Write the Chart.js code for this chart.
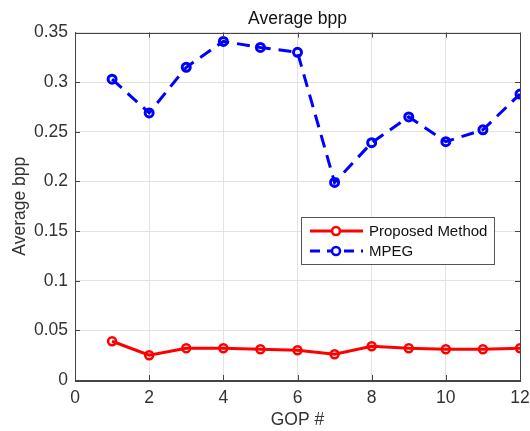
<!DOCTYPE html>
<html>
<head>
<meta charset="utf-8">
<script src="https://cdn.jsdelivr.net/npm/chart.js@4"></script>
<style>
  html, body { margin: 0; padding: 0; background: #fff; }
  #wrap { width: 530px; height: 431px; }
</style>
</head>
<body>
<div id="wrap"><canvas id="bppChart" width="530" height="431"></canvas></div>
<script>
// GOP numbers and average bpp per series
const gops = [1, 2, 3, 4, 5, 6, 7, 8, 9, 10, 11, 12];
const proposed = [0.039, 0.025, 0.032, 0.032, 0.031, 0.030, 0.026, 0.034, 0.032, 0.031, 0.031, 0.032];
const mpeg = [0.303, 0.269, 0.315, 0.341, 0.335, 0.330, 0.199, 0.239, 0.265, 0.240, 0.252, 0.288];
const seriesNames = ["Proposed Method", "MPEG"];
const xTicks = [0, 2, 4, 6, 8, 10, 12];
const yTicks = [0, 0.05, 0.1, 0.15, 0.2, 0.25, 0.3, 0.35];

const font = "'Liberation Sans', Arial, sans-serif";
const textColor = "#333";
const axisColor = "#444";
const fontSize = 17.5;

function toPoints(vals) {
  return gops.map((g, i) => ({ x: g, y: vals[i] }));
}

// box round the axes, inside ticks and the legend, drawn MATLAB style
const matlabBox = {
  id: "matlabBox",
  afterDraw(chart) {
    const ctx = chart.ctx;
    const a = chart.chartArea;
    const xs = chart.scales.x, ys = chart.scales.y;
    ctx.save();
    ctx.strokeStyle = axisColor;
    ctx.lineWidth = 1;
    ctx.strokeRect(Math.round(a.left) + 0.5, Math.round(a.top) + 0.5,
      Math.round(a.right - a.left), Math.round(a.bottom - a.top));
    ctx.beginPath();
    xTicks.forEach(t => {
      const px = Math.round(xs.getPixelForValue(t)) + 0.5;
      ctx.moveTo(px, a.bottom); ctx.lineTo(px, a.bottom - 5);
      ctx.moveTo(px, a.top); ctx.lineTo(px, a.top + 5);
    });
    yTicks.forEach(t => {
      const py = Math.round(ys.getPixelForValue(t)) + 0.5;
      ctx.moveTo(a.left, py); ctx.lineTo(a.left + 5, py);
      ctx.moveTo(a.right, py); ctx.lineTo(a.right - 5, py);
    });
    ctx.stroke();

    // legend
    const lx = 301, ly = 217, lw = 193, lh = 47;
    ctx.fillStyle = "#fff";
    ctx.fillRect(lx, ly, lw, lh);
    ctx.strokeStyle = "#555";
    ctx.strokeRect(lx + 0.5, ly + 0.5, lw, lh);
    const rows = [
      { name: seriesNames[0], color: "#ff0000", dash: [], y: ly + 14 },
      { name: seriesNames[1], color: "#0000ff", dash: [10, 7], y: ly + 34 }
    ];
    rows.forEach(r => {
      ctx.strokeStyle = r.color;
      ctx.lineWidth = 3;
      ctx.setLineDash(r.dash);
      ctx.beginPath();
      ctx.moveTo(lx + 9, r.y);
      ctx.lineTo(lx + 62, r.y);
      ctx.stroke();
      ctx.setLineDash([]);
      ctx.fillStyle = "#fff";
      ctx.beginPath();
      ctx.arc(lx + 35, r.y, 4, 0, Math.PI * 2);
      ctx.fill();
      ctx.lineWidth = 2.5;
      ctx.stroke();
      ctx.fillStyle = "#111";
      ctx.font = "15px " + font;
      ctx.textBaseline = "middle";
      ctx.textAlign = "left";
      ctx.fillText(r.name, lx + 68, r.y + 1);
    });
    ctx.restore();
  }
};

const ctx = document.getElementById("bppChart").getContext("2d");
new Chart(ctx, {
  type: "line",
  data: {
    datasets: [
      {
        label: seriesNames[0],
        data: toPoints(proposed),
        borderColor: "#ff0000",
        backgroundColor: "rgba(0,0,0,0)",
        borderWidth: 3,
        pointRadius: 4,
        pointBorderWidth: 2.5,
        pointBackgroundColor: "rgba(255,255,255,0)",
        pointBorderColor: "#ff0000",
        tension: 0
      },
      {
        label: seriesNames[1],
        data: toPoints(mpeg),
        borderColor: "#0000ff",
        backgroundColor: "rgba(0,0,0,0)",
        borderWidth: 3,
        borderDash: [13, 8],
        pointRadius: 4,
        pointBorderWidth: 3,
        pointBackgroundColor: "rgba(255,255,255,0)",
        pointBorderColor: "#0000ff",
        tension: 0
      }
    ]
  },
  options: {
    responsive: false,
    animation: false,
    layout: { padding: { left: 6, right: 10, top: 0, bottom: 0 } },
    plugins: {
      legend: { display: false },
      tooltip: { enabled: false },
      title: {
        display: true,
        text: "Average bpp",
        fullSize: false,
        color: "#111",
        font: { family: font, size: fontSize, weight: "normal" },
        padding: { top: 8.5, bottom: 3 }
      }
    },
    scales: {
      x: {
        type: "linear",
        min: 0,
        max: 12,
        afterBuildTicks: s => { s.ticks = xTicks.map(v => ({ value: v })); },
        afterFit: s => { s.height = 51; s.paddingLeft = 0; s.paddingRight = 0; },
        grid: { color: "#e3e3e3", drawTicks: false },
        border: { color: axisColor },
        ticks: { color: textColor, padding: 8, font: { family: font, size: fontSize } },
        title: {
          display: true,
          text: "GOP #",
          color: textColor,
          font: { family: font, size: fontSize },
          padding: { top: 4, bottom: 0 }
        }
      },
      y: {
        type: "linear",
        min: 0,
        max: 0.35,
        afterBuildTicks: s => { s.ticks = yTicks.map(v => ({ value: v })); },
        afterFit: s => { s.width = 69; s.paddingTop = 0; s.paddingBottom = 0; },
        grid: { color: "#e3e3e3", drawTicks: false },
        border: { color: axisColor },
        ticks: {
          color: textColor,
          padding: 7,
          font: { family: font, size: fontSize },
          callback: v => String(+v.toFixed(2))
        },
        title: {
          display: true,
          text: "Average bpp",
          color: textColor,
          font: { family: font, size: fontSize },
          padding: { top: 4, bottom: 4 }
        }
      }
    }
  },
  plugins: [matlabBox]
});
</script>
</body>
</html>
